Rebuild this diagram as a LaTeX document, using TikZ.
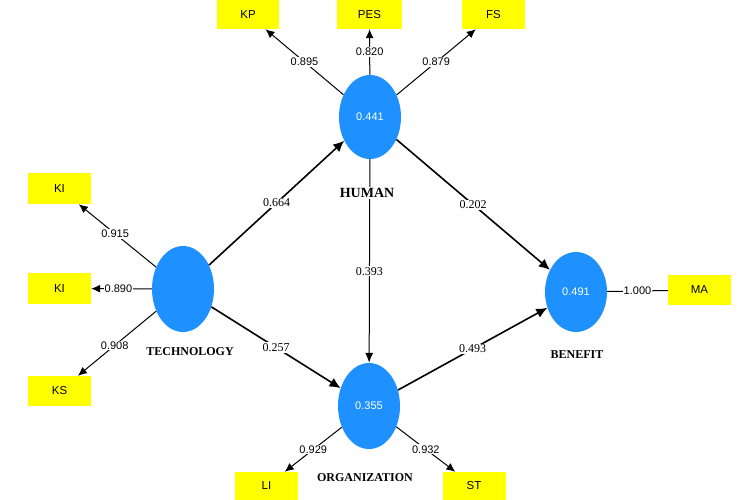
\documentclass[tikz,border=0pt]{standalone}
\usepackage{fontspec}
\setmainfont{Liberation Serif}
\newfontfamily\sansf{Liberation Sans}
\usetikzlibrary{shapes.geometric,arrows.meta}
\definecolor{lvblue}{RGB}{30,144,255}
\definecolor{mvyellow}{RGB}{255,255,0}
\begin{document}
\begin{tikzpicture}[x=1pt,y=-1pt,
  latent/.style={ellipse,fill=lvblue,inner sep=0pt,minimum width=62pt,minimum height=84pt,
    text=white,font=\sansf\fontsize{11}{13}\selectfont},
  indicator/.style={rectangle,fill=mvyellow,inner sep=0pt,minimum width=63pt,minimum height=30pt,
    font=\sansf\fontsize{11.5}{13}\selectfont},
  cname/.style={fill=white,inner sep=1pt,font=\bfseries\fontsize{12}{14}\selectfont},
  loadlbl/.style={fill=white,inner sep=1pt,font=\sansf\fontsize{11}{13}\selectfont},
  pathlbl/.style={fill=white,inner sep=1pt,font=\fontsize{12}{14}\selectfont},
  outer/.style={line width=1pt,-{Latex[length=9pt,width=8pt]}},
  inner/.style={line width=1.6pt,-{Latex[length=11pt,width=10pt]}}
]
\useasboundingbox (0,0) rectangle (750,499);
% latent variables
\node[latent] (human) at (370,117) {0.441};
\node[latent,minimum height=86pt] (tech) at (183,289) {};
\node[latent,minimum height=86pt] (org) at (369,406) {0.355};
\node[latent,minimum height=80pt] (benefit) at (576,292) {0.491};
% indicators
\node[indicator,minimum width=62pt,minimum height=29pt] (kp) at (248,14.5) {KP};
\node[indicator,minimum width=65pt,minimum height=29pt] (pes) at (369.5,14.5) {PES};
\node[indicator,minimum width=63pt,minimum height=29pt] (fs) at (493.5,14.5) {FS};
\node[indicator,minimum height=31pt] (ki1) at (59.5,188.5) {KI};
\node[indicator,minimum height=31pt] (ki2) at (59.5,288.5) {KI};
\node[indicator] (ks) at (59.5,391) {KS};
\node[indicator,minimum height=28pt] (li) at (266.5,486) {LI};
\node[indicator,minimum height=28pt] (st) at (474,486) {ST};
\node[indicator] (ma) at (699.5,290) {MA};
% outer model
\draw[outer] (human) -- node[loadlbl,pos=0.5] {0.895} (kp);
\draw[outer] (human) -- node[loadlbl,pos=0.5] {0.820} (pes);
\draw[outer] (human) -- node[loadlbl,pos=0.5] {0.879} (fs);
\draw[outer] (tech) -- node[loadlbl,pos=0.53] {0.915} (ki1);
\draw[outer] (tech) -- node[loadlbl,pos=0.55] {0.890} (ki2);
\draw[outer] (tech) -- node[loadlbl,pos=0.53] {0.908} (ks);
\draw[outer] (org) -- node[loadlbl,pos=0.5] {0.929} (li);
\draw[outer] (org) -- node[loadlbl,pos=0.5] {0.932} (st);
\draw[line width=1pt] (benefit) -- node[loadlbl,pos=0.5] {1.000} (ma);
% inner model
\draw[inner] (tech) -- node[pathlbl] {0.664} (human);
\draw[inner] (tech) -- node[pathlbl] {0.257} (org);
\draw[inner] (human) -- node[pathlbl] {0.202} (benefit);
\draw[inner] (org) -- node[pathlbl] {0.493} (benefit);
\draw[line width=1pt,-{Latex[length=10pt,width=8pt]}] (human) -- node[pathlbl,pos=0.55] {0.393} (org);
% construct names
\node[cname,font=\bfseries\fontsize{14}{16}\selectfont] (humanname) at (367,193) {HUMAN};
\node[cname] (techname) at (190,352) {TECHNOLOGY};
\node[cname] (orgname) at (365,478) {ORGANIZATION};
\node[cname] (benefitname) at (577,355) {BENEFIT};
\end{tikzpicture}
\end{document}
